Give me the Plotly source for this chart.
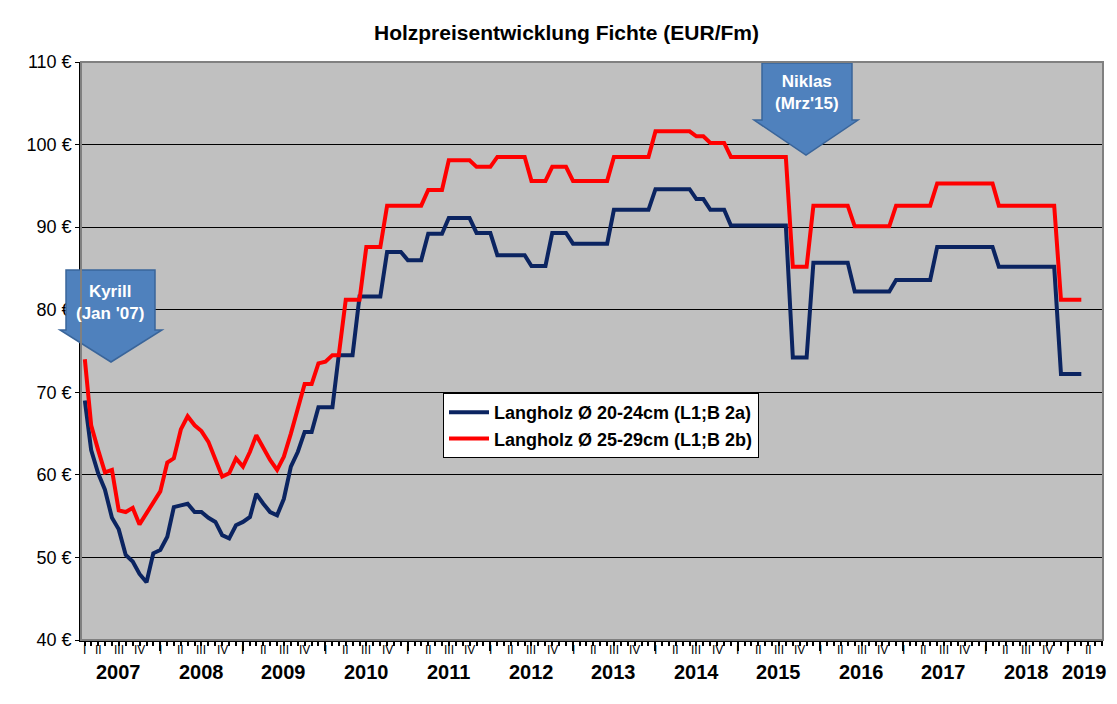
import plotly.graph_objects as go
import pandas as pd

# monthly prices, Feb 2007 .. Mar 2019
blue_vals = [
    69, 63, 60.2, 58.2, 54.8, 53.4, 50.3, 49.5, 48, 47, 50.5,                  # 2007
    50.9, 52.5, 56.1, 56.3, 56.5, 55.5, 55.5, 54.8, 54.3, 52.7, 52.3, 53.9,    # 2008
    54.3, 54.9, 57.7, 56.5, 55.5, 55.1, 57.1, 61, 62.8, 65.2, 65.2, 68.2,      # 2009
    68.2, 68.2, 74.5, 74.5, 74.5, 81.6, 81.6, 81.6, 81.6, 87, 87, 87,          # 2010
    86, 86, 86, 89.2, 89.2, 89.2, 91.1, 91.1, 91.1, 91.1, 89.3, 89.3,          # 2011
    89.3, 86.6, 86.6, 86.6, 86.6, 86.6, 85.3, 85.3, 85.3, 89.3, 89.3, 89.3,    # 2012
    88, 88, 88, 88, 88, 88, 92.1, 92.1, 92.1, 92.1, 92.1, 92.1,                # 2013
    94.6, 94.6, 94.6, 94.6, 94.6, 94.6, 93.4, 93.4, 92.1, 92.1, 92.1, 90.2,    # 2014
    90.2, 90.2, 90.2, 90.2, 90.2, 90.2, 90.2, 90.2, 74.2, 74.2, 74.2, 85.7,    # 2015
    85.7, 85.7, 85.7, 85.7, 85.7, 82.2, 82.2, 82.2, 82.2, 82.2, 82.2, 83.6,    # 2016
    83.6, 83.6, 83.6, 83.6, 83.6, 87.6, 87.6, 87.6, 87.6, 87.6, 87.6, 87.6,    # 2017
    87.6, 87.6, 85.2, 85.2, 85.2, 85.2, 85.2, 85.2, 85.2, 85.2, 85.2, 72.2,    # 2018
    72.2, 72.2, 72.2,                                                          # 2019
]
red_vals = [
    74, 66, 63, 60.3, 60.6, 55.7, 55.5, 56, 54, 55.3, 56.5,                    # 2007
    58, 61.5, 62, 65.5, 67.1, 66, 65.3, 64, 62, 59.8, 60.2, 62,                # 2008
    61, 62.8, 64.8, 63.3, 61.8, 60.6, 62.2, 65, 68, 71, 71, 73.5,              # 2009
    73.7, 74.5, 74.5, 81.2, 81.2, 81.2, 87.6, 87.6, 87.6, 92.6, 92.6, 92.6,    # 2010
    92.6, 92.6, 92.6, 94.5, 94.5, 94.5, 98.1, 98.1, 98.1, 98.1, 97.3, 97.3,    # 2011
    97.3, 98.5, 98.5, 98.5, 98.5, 98.5, 95.6, 95.6, 95.6, 97.3, 97.3, 97.3,    # 2012
    95.6, 95.6, 95.6, 95.6, 95.6, 95.6, 98.5, 98.5, 98.5, 98.5, 98.5, 98.5,    # 2013
    101.6, 101.6, 101.6, 101.6, 101.6, 101.6, 101, 101, 100.2, 100.2, 100.2, 98.5,  # 2014
    98.5, 98.5, 98.5, 98.5, 98.5, 98.5, 98.5, 98.5, 85.2, 85.2, 85.2, 92.6,    # 2015
    92.6, 92.6, 92.6, 92.6, 92.6, 90.1, 90.1, 90.1, 90.1, 90.1, 90.1, 92.6,    # 2016
    92.6, 92.6, 92.6, 92.6, 92.6, 95.3, 95.3, 95.3, 95.3, 95.3, 95.3, 95.3,    # 2017
    95.3, 95.3, 92.6, 92.6, 92.6, 92.6, 92.6, 92.6, 92.6, 92.6, 92.6, 81.2,    # 2018
    81.2, 81.2, 81.2,                                                          # 2019
]
months = pd.date_range("2007-02-01", periods=len(blue_vals), freq="MS")

years = list(range(2007, 2020))
quarter_names = ["I", "II", "III", "IV"]

fig = go.Figure()
fig.add_trace(go.Scatter(x=months, y=blue_vals, mode="lines",
                         line=dict(color="#0b2461", width=4),
                         name="<b>Langholz Ø 20-24cm (L1;B 2a)</b>"))
fig.add_trace(go.Scatter(x=months, y=red_vals, mode="lines",
                         line=dict(color="#ff0000", width=4),
                         name="<b>Langholz Ø 25-29cm (L1;B 2b)</b>"))

# quarter and year labels under the axis
for y in years:
    nq = 2 if y == 2019 else 4
    for q in range(nq):
        d = pd.Timestamp(y, 3 * q + 1, 1)
        if y == 2007 and q == 0:
            d = pd.Timestamp(2007, 2, 1)
        fig.add_annotation(x=d, y=-0.018, xref="x", yref="paper", text=quarter_names[q],
                           showarrow=False, font=dict(size=12, color="black"),
                           xanchor="center", yanchor="middle")
    yd = pd.Timestamp(2019, 3, 15) if y == 2019 else pd.Timestamp(y, 7, 1)
    fig.add_annotation(x=yd, y=-0.056, xref="x", yref="paper", text="<b>%d</b>" % y,
                       showarrow=False, font=dict(size=20, color="black"),
                       xanchor="center", yanchor="middle")

# storm arrows (pixel positions of the plot area 81..1103 x 62..640)
def px(x):
    return (x - 81) / 1022

def py(y):
    return (640 - y) / 578

def arrow(l, r, top, neck, hl, hr, tip):
    cx = (hl + hr) / 2
    pts = [(l, top), (r, top), (r, neck), (hr, neck), (cx, tip), (hl, neck), (l, neck)]
    return "M " + " L ".join("%f,%f" % (px(a), py(b)) for a, b in pts) + " Z"

for shape_path in [arrow(66, 155, 270, 330, 60, 162, 362), arrow(762, 852, 63, 120, 754, 858, 155)]:
    fig.add_shape(type="path", path=shape_path, xref="paper", yref="paper",
                  fillcolor="#4f81bd", line=dict(color="#3a659a", width=1.5))
fig.add_annotation(x=px(110), y=py(302), xref="paper", yref="paper", showarrow=False,
                   xanchor="center", yanchor="middle",
                   text="<b>Kyrill<br>(Jan '07)</b>", font=dict(size=17, color="white"))
fig.add_annotation(x=px(807), y=py(92), xref="paper", yref="paper", showarrow=False,
                   xanchor="center", yanchor="middle",
                   text="<b>Niklas<br>(Mrz'15)</b>", font=dict(size=17, color="white"))

fig.update_xaxes(
    range=[pd.Timestamp(2007, 1, 15), pd.Timestamp(2019, 6, 5)],
    tickvals=[pd.Timestamp(y, 1, 1) for y in years[1:]], ticktext=[""] * 12,
    ticks="outside", ticklen=9, tickwidth=2, tickcolor="black",
    minor=dict(dtick="M1", ticks="outside", ticklen=4, tickcolor="black"),
    showgrid=False, showline=True, linecolor="black", linewidth=1.5, mirror=False,
)
fig.update_yaxes(
    range=[40, 110], dtick=10, ticksuffix=" €",
    tickfont=dict(size=18, color="black"), ticks="outside", ticklen=4, tickcolor="black",
    showgrid=True, gridcolor="black", gridwidth=1,
    showline=True, linecolor="black", linewidth=1.5, zeroline=False,
)
fig.add_shape(type="rect", xref="paper", yref="paper", x0=0, x1=1, y0=0, y1=1,
              line=dict(color="#808080", width=2))
# page body adds an 8px offset, margins compensate
fig.update_layout(
    width=1117, height=704,
    margin=dict(l=73, r=22, t=54, b=72),
    paper_bgcolor="white", plot_bgcolor="#c0c0c0",
    font=dict(family="Liberation Sans, Arial, sans-serif", color="black"),
    title=dict(text="<b>Holzpreisentwicklung Fichte (EUR/Fm)</b>", x=0.5, xanchor="center",
               y=0.965, yanchor="middle", font=dict(size=21)),
    legend=dict(x=px(443), y=py(393), xanchor="left", yanchor="top",
                bgcolor="white", bordercolor="black", borderwidth=1,
                font=dict(size=18), itemwidth=40, tracegroupgap=10),
)
fig.write_html("out.html")
